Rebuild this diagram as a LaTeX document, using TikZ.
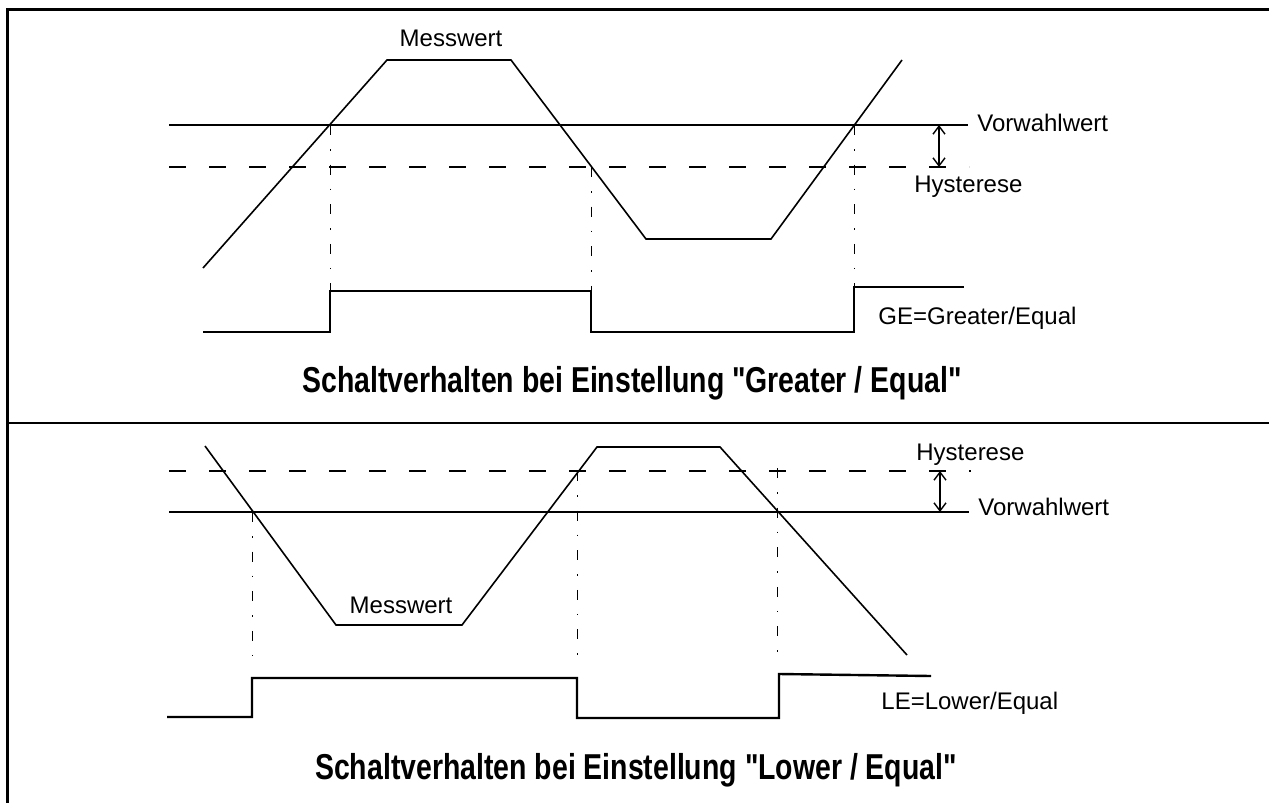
\documentclass[tikz,border=0pt]{standalone}
\usepackage{fontspec}
\setmainfont{Liberation Sans}
\newfontfamily\titlefont{Liberation Sans}[FakeStretch=0.79]
\usetikzlibrary{arrows.meta}

\begin{document}
\begin{tikzpicture}[x=0.5pt,y=-0.5pt,>={Straight Barb[length=4pt,width=6pt]}] % pixel grid, y downwards
  \tikzset{
    lbl/.style={inner sep=0pt,font=\fontsize{12}{14}\selectfont},
    ttl/.style={inner sep=0pt,font=\titlefont\bfseries\fontsize{18}{21}\selectfont},
    level/.style={line width=1pt},
    hyst/.style={line width=0.8pt,dash pattern=on 8.5pt off 11.5pt},
    sig/.style={line width=0.8pt},
    switch/.style={line width=1.2pt},
    mark line/.style={line width=0.5pt,dash pattern=on 5pt off 7pt on 0.8pt off 7pt}
  }
  \useasboundingbox (0,0) rectangle (1269,803);

  % frame
  \draw[line width=1.5pt] (7,803) -- (7,9) -- (1269,9);
  \draw[line width=1.2pt] (7,423) -- (1269,423);

  % Greater / Equal
  \draw[level] (169,125) -- (968,125);
  \draw[hyst] (169,167) -- (969,167);
  \draw[sig] (203,268) -- (387,60) -- (511,60) -- (646,239) -- (771,239) -- (902,60);
  \draw[mark line] (330,125) -- (330,290);
  \draw[mark line] (591,167) -- (591,290);
  \draw[mark line] (854,125) -- (854,288);
  \draw[switch] (203,332) -- (330,332) -- (330,291) -- (591,291) -- (591,332)
    -- (854,332) -- (854,287) -- (964,287);
  \coordinate (vwA) at (939,125);
  \coordinate (hyA) at (939,167);
  \draw[<->,line width=0.7pt] (vwA) -- (hyA);

  \node[lbl] (messA) at (451,38) {Messwert};
  \node[lbl,anchor=west] (vorA) at (977,123) {Vorwahlwert};
  \node[lbl,anchor=west] (hysA) at (914,187) {Hysterese};
  \node[lbl,anchor=west] (ge) at (878,318) {GE=Greater/Equal};
  \node[ttl] (titA) at (632,383) {Schaltverhalten bei Einstellung "Greater / Equal"};

  % Lower / Equal
  \draw[level] (169,512) -- (969,512);
  \draw[hyst] (169,471) -- (971,471);
  \draw[sig] (205,446) -- (336,625) -- (462,625) -- (597,447) -- (720,447) -- (907,655);
  \draw[mark line] (252,512) -- (252,655);
  \draw[mark line] (577,471) -- (577,655);
  \draw[mark line] (777,468) -- (777,655);
  \draw[switch] (167,717) -- (252,717) -- (252,678) -- (577,678) -- (577,718)
    -- (779,718) -- (779,674) -- (931,676);
  \coordinate (hyB) at (940,471);
  \coordinate (vwB) at (940,512);
  \draw[<->,line width=0.7pt] (hyB) -- (vwB);

  \node[lbl] (messB) at (401,605) {Messwert};
  \node[lbl,anchor=west] (hysB) at (916,455) {Hysterese};
  \node[lbl,anchor=west] (vorB) at (978,507) {Vorwahlwert};
  \node[lbl,anchor=west] (le) at (881,703) {LE=Lower/Equal};
  \node[ttl] (titB) at (636,770) {Schaltverhalten bei Einstellung "Lower / Equal"};

\end{tikzpicture}
\end{document}
